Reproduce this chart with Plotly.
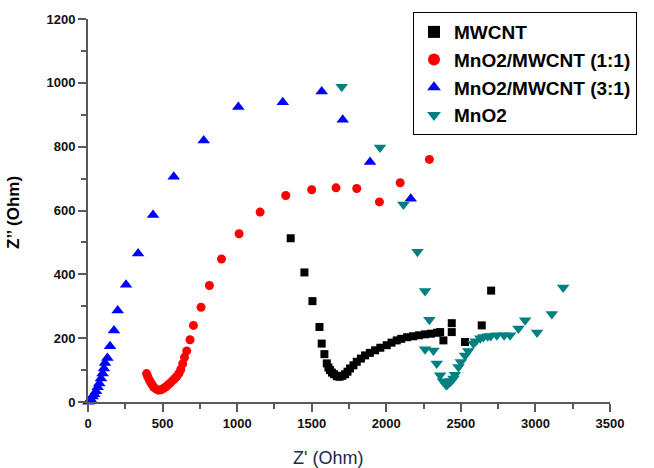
import plotly.graph_objects as go

# ---- data ----
mwcnt_x = [1359, 1451, 1505, 1552, 1567, 1585, 1601, 1612, 1623, 1636, 1650, 1668, 1686, 1705,
           1724, 1740, 1757, 1780, 1802, 1830, 1858, 1890, 1925, 1960, 2003, 2035, 2070, 2100,
           2140, 2180, 2220, 2260, 2300, 2340, 2361, 2383, 2439, 2439, 2528, 2640, 2703]
mwcnt_y = [513, 406, 316, 235, 183, 150, 121, 108, 100, 92, 87, 81, 79, 82,
           87, 95, 105, 115, 126, 136, 146, 154, 162, 170, 178, 186, 193, 198,
           203, 206, 209, 212, 214, 217, 219, 193, 247, 219, 188, 240, 349]

mn11_x = [393, 400, 410, 420, 430, 440, 455, 472, 490, 505, 520, 535, 550, 565, 580, 595,
          610, 622, 635, 647, 662, 684, 707, 758, 814, 895, 1013, 1154, 1326, 1500, 1663,
          1802, 1954, 2093, 2289]
mn11_y = [89, 80, 70, 62, 54, 47, 41, 37, 38, 42, 47, 53, 59, 66, 73, 80,
          90, 102, 120, 140, 160, 195, 240, 297, 365, 448, 527, 595, 647, 665, 671,
          669, 627, 687, 760]

mn31_x = [3, 9, 18, 31, 42, 54, 65, 76, 87, 98, 107, 114, 130, 148, 174, 199, 255, 336,
          436, 575, 776, 1008, 1306, 1567, 1708, 1891, 2164]
mn31_y = [1, 4, 9, 17, 24, 34, 46, 58, 74, 89, 105, 122, 138, 175, 224, 287, 367, 465,
          586, 706, 819, 924, 939, 973, 884, 752, 637]

mno2_x = [1701, 1958, 2115, 2209, 2260, 2289, 2260, 2316, 2338, 2361, 2380, 2401, 2410,
          2425, 2435, 2450, 2460, 2484, 2500, 2528, 2550, 2584, 2600, 2630, 2651, 2680,
          2700, 2741, 2790, 2830, 2886, 2931, 3011, 3110, 3186]
mno2_y = [988, 797, 619, 471, 348, 258, 165, 161, 121, 84, 65, 53, 55,
          62, 66, 74, 85, 110, 125, 146, 160, 183, 190, 200, 204, 206,
          207, 209, 209, 209, 230, 256, 218, 276, 359]

x_ticks = [0, 500, 1000, 1500, 2000, 2500, 3000, 3500]
y_ticks = [0, 200, 400, 600, 800, 1000, 1200]

fig = go.Figure()
fig.add_trace(go.Scatter(x=mwcnt_x, y=mwcnt_y, mode="markers", name="MWCNT",
                         marker=dict(symbol="square", size=8, color="black"), cliponaxis=False))
fig.add_trace(go.Scatter(x=mn11_x, y=mn11_y, mode="markers", name="MnO2/MWCNT (1:1)",
                         marker=dict(symbol="circle", size=9, color="#ff0000"), cliponaxis=False))
fig.add_trace(go.Scatter(x=mn31_x, y=mn31_y, mode="markers", name="MnO2/MWCNT (3:1)",
                         marker=dict(symbol="triangle-up", size=11, color="#0000ff"), cliponaxis=False))
fig.add_trace(go.Scatter(x=mno2_x, y=mno2_y, mode="markers", name="MnO2",
                         marker=dict(symbol="triangle-down", size=11, color="#008080"), cliponaxis=False))

axis_common = dict(
    showline=True, linecolor="#5a5a5a", linewidth=2,
    ticks="outside", ticklen=8, tickwidth=2, tickcolor="#5a5a5a",
    showgrid=False, zeroline=False,
    tickfont=dict(family="Arial, Liberation Sans", size=13, color="#111111", weight="bold"),
)

fig.update_xaxes(range=[0, 3500], tickvals=x_ticks, ticktext=[str(v) for v in x_ticks],
                 minor=dict(ticks="outside", ticklen=5, tickwidth=2, tickcolor="#5a5a5a", dtick=250, tick0=0),
                 **axis_common)
fig.update_yaxes(range=[0, 1200], tickvals=y_ticks, ticktext=[str(v) for v in y_ticks],
                 minor=dict(ticks="outside", ticklen=5, tickwidth=2, tickcolor="#5a5a5a", dtick=100, tick0=0),
                 **axis_common)

fig.update_layout(
    width=654, height=468,
    margin=dict(l=88, r=44, t=17, b=66),
    paper_bgcolor="white", plot_bgcolor="white",
    showlegend=True,
    legend=dict(
        x=(413 - 88) / 522, y=(402 - 10) / 385, xanchor="left", yanchor="top",
        bordercolor="black", borderwidth=1, bgcolor="white",
        font=dict(family="Arial, Liberation Sans", size=19, color="black", weight="bold"),
        tracegroupgap=0, itemsizing="constant",
    ),
    annotations=[
        dict(text="Z' (Ohm)", xref="paper", yref="paper", x=(328 - 88) / 522, y=(402 - 458) / 385,
             xanchor="center", yanchor="middle", showarrow=False,
             font=dict(family="Arial, Liberation Sans", size=18, color="#1b2846")),
        dict(text="Z’’ (Ohm)", xref="paper", yref="paper", x=(14 - 88) / 522, y=(402 - 212) / 385,
             xanchor="center", yanchor="middle", showarrow=False, textangle=-90,
             font=dict(family="Arial, Liberation Sans", size=17, color="black", weight="bold")),
    ],
)

fig.write_html("out.html")
